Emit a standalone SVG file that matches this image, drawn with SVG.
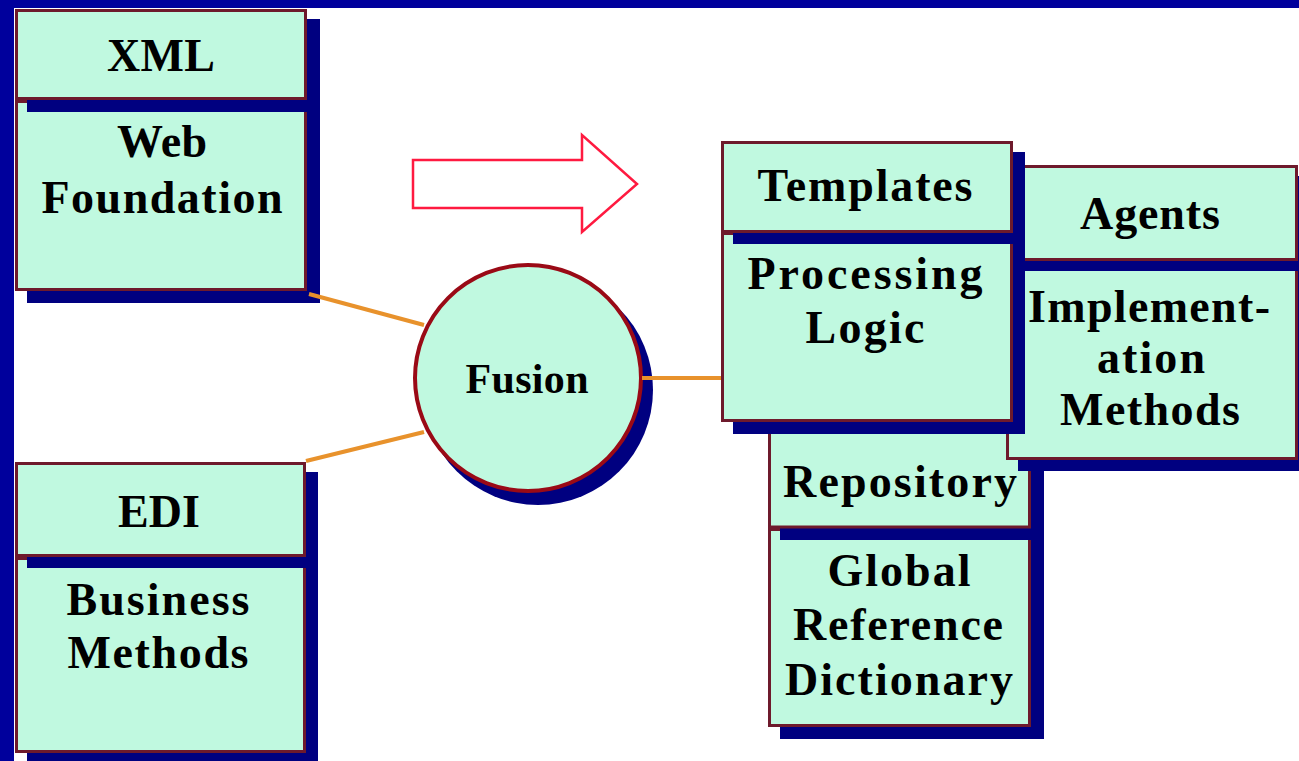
<svg xmlns="http://www.w3.org/2000/svg" width="1299" height="761" viewBox="0 0 1299 761">
<style>
.sh{fill:#000080}
.bx{fill:#c0f9e0;stroke:#6e1a2c;stroke-width:3}
.t{font-family:"Liberation Serif","Times New Roman",serif;font-weight:bold;font-size:46px;fill:#000;text-anchor:middle}
.ft{font-size:42px}
.con{stroke:#e8922c;stroke-width:4;fill:none}
</style>
<rect x="0" y="0" width="1299" height="761" fill="#ffffff"/>
<rect x="0" y="0" width="1299" height="8" fill="#00009c"/>
<rect x="0" y="0" width="14" height="761" fill="#00009c"/>

<g id="node-web-foundation">
<rect class="sh" x="27" y="110" width="293" height="193"/>
<rect class="bx" x="16.5" y="101.5" width="289" height="188"/>
<text class="t" x="162" y="157" textLength="90" lengthAdjust="spacing">Web</text>
<text class="t" x="162" y="213" textLength="241" lengthAdjust="spacing">Foundation</text>
</g>
<g id="node-xml">
<rect class="sh" x="27" y="19" width="293" height="93"/>
<rect class="bx" x="16.5" y="10.5" width="289" height="88"/>
<text class="t" x="161" y="71" textLength="108" lengthAdjust="spacing">XML</text>
</g>

<g id="node-business-methods">
<rect class="sh" x="27" y="567" width="291" height="200"/>
<rect class="bx" x="16.5" y="558.5" width="288" height="193"/>
<text class="t" x="158" y="615" textLength="183" lengthAdjust="spacing">Business</text>
<text class="t" x="158" y="668" textLength="181" lengthAdjust="spacing">Methods</text>
</g>
<g id="node-edi">
<rect class="sh" x="27" y="472" width="291" height="96"/>
<rect class="bx" x="16.5" y="463.5" width="288" height="92"/>
<text class="t" x="159" y="527" textLength="82" lengthAdjust="spacing">EDI</text>
</g>

<g id="node-fusion">
<circle class="sh" cx="538" cy="390" r="115"/>
<circle cx="528" cy="378" r="113" fill="#c0f9e0" stroke="#9a0a16" stroke-width="4"/>
<text class="t ft" x="527" y="393" textLength="123" lengthAdjust="spacing">Fusion</text>
</g>

<g id="arrow-shape">
<polygon points="413,160 582,160 582,135 637,184 582,232 582,208 413,208" fill="#ffffff" stroke="#ff1a40" stroke-width="2.5"/>
</g>

<g id="node-global-reference-dictionary">
<rect class="sh" x="780" y="540" width="264" height="199"/>
<rect class="bx" x="769.5" y="529.5" width="260" height="196"/>
<text class="t" x="899" y="586" textLength="143" lengthAdjust="spacing">Global</text>
<text class="t" x="898" y="640" textLength="210" lengthAdjust="spacing">Reference</text>
<text class="t" x="899" y="695" textLength="228" lengthAdjust="spacing">Dictionary</text>
</g>
<g id="node-repository">
<rect class="sh" x="780" y="410" width="264" height="130"/>
<rect class="bx" x="769.5" y="400" width="260" height="127"/>
<text class="t" x="900" y="497" textLength="234" lengthAdjust="spacing">Repository</text>
</g>

<g id="node-implementation-methods">
<rect class="sh" x="1018" y="271" width="292" height="200"/>
<rect class="bx" x="1007.5" y="261.5" width="289" height="197"/>
<text class="t" x="1149" y="322" textLength="242" lengthAdjust="spacing">Implement-</text>
<text class="t" x="1151" y="373" textLength="108" lengthAdjust="spacing">ation</text>
<text class="t" x="1150" y="425" textLength="180" lengthAdjust="spacing">Methods</text>
</g>
<g id="node-agents">
<rect class="sh" x="1018" y="176" width="292" height="95"/>
<rect class="bx" x="1007.5" y="166.5" width="289" height="93"/>
<text class="t" x="1150" y="229" textLength="140" lengthAdjust="spacing">Agents</text>
</g>

<g id="node-processing-logic">
<rect class="sh" x="733" y="243" width="292" height="191"/>
<rect class="bx" x="722.5" y="233.5" width="289" height="187"/>
<text class="t" x="865" y="289" textLength="235" lengthAdjust="spacing">Processing</text>
<text class="t" x="865" y="343" textLength="119" lengthAdjust="spacing">Logic</text>
</g>
<g id="node-templates">
<rect class="sh" x="733" y="152" width="292" height="92"/>
<rect class="bx" x="722.5" y="142.5" width="289" height="89"/>
<text class="t" x="865" y="201" textLength="215" lengthAdjust="spacing">Templates</text>
</g>

<g id="connectors">
<line class="con" x1="309" y1="294" x2="424" y2="325"/>
<line class="con" x1="306" y1="461" x2="424" y2="432"/>
<line class="con" x1="642" y1="378" x2="721" y2="378"/>
</g>
</svg>
